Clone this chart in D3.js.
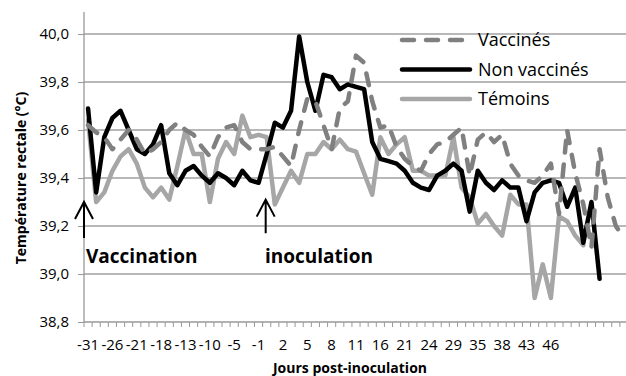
<!DOCTYPE html>
<html>
<head>
<meta charset="utf-8">
<script src="https://cdnjs.cloudflare.com/ajax/libs/d3/7.8.5/d3.min.js"></script>
<style>
  body { margin: 0; background: #fff; }
  text { font-family: "Open Sans", sans-serif; fill: #000; }
</style>
</head>
<body>
<script>
// days (one category per measurement), only every 3rd is labelled
var days = [-31, -29, -28, -26, -25, -22, -21, -20, -19, -18,
            -15, -14, -13, -12, -11, -10, -8, -7, -5, -4,
            -3, -1, 0, 1, 2, 3, 4, 5, 6, 7,
            8, 9, 10, 11, 14, 15, 16, 17, 18, 21,
            22, 23, 24, 25, 28, 29, 31, 32, 35, 36,
            37, 38, 39, 42, 43, 44, 45, 46, 49, 50,
            51, 52, 53, 56, 57, 58, 59];

var vaccines = [39.62, 39.59, 39.57, 39.52, 39.56, 39.60, 39.56, 39.50, 39.52, 39.55,
                39.60, 39.63, 39.60, 39.58, 39.53, 39.49, 39.57, 39.61, 39.62, 39.55,
                39.52, 39.52, 39.52, 39.53, 39.49, 39.45, 39.60, 39.73, 39.72, 39.62,
                39.52, 39.69, 39.72, 39.91, 39.88, 39.72, 39.61, 39.62, 39.53, 39.48,
                39.45, 39.43, 39.50, 39.54, 39.55, 39.58, 39.61, 39.41, 39.56, 39.59,
                39.55, 39.58, 39.46, 39.41, 39.39, 39.38, 39.41, 39.46, 39.25, 39.60,
                39.42, 39.29, 39.11, 39.52, 39.32, 39.20, 39.15];

var nonVaccines = [39.69, 39.34, 39.57, 39.65, 39.68, 39.60, 39.52, 39.50, 39.54, 39.62,
                   39.42, 39.37, 39.43, 39.45, 39.41, 39.38, 39.42, 39.40, 39.37, 39.43,
                   39.39, 39.38, 39.50, 39.63, 39.61, 39.68, 39.99, 39.80, 39.68, 39.83,
                   39.82, 39.77, 39.79, 39.78, 39.77, 39.55, 39.48, 39.47, 39.46, 39.43,
                   39.38, 39.36, 39.35, 39.41, 39.43, 39.46, 39.43, 39.26, 39.43, 39.38,
                   39.35, 39.39, 39.36, 39.36, 39.22, 39.34, 39.38, 39.39, 39.38, 39.28,
                   39.36, 39.13, 39.30, 38.98];

var temoins = [39.64, 39.30, 39.34, 39.43, 39.49, 39.52, 39.46, 39.36, 39.32, 39.36,
               39.31, 39.45, 39.60, 39.50, 39.50, 39.30, 39.48, 39.55, 39.50, 39.66,
               39.57, 39.58, 39.57, 39.29, 39.36, 39.43, 39.38, 39.50, 39.50, 39.55,
               39.52, 39.56, 39.52, 39.51, 39.42, 39.33, 39.57, 39.50, 39.54, 39.57,
               39.43, 39.43, 39.41, 39.41, 39.41, 39.57, 39.36, 39.32, 39.21, 39.25,
               39.20, 39.16, 39.33, 39.29, 39.29, 38.90, 39.04, 38.90, 39.24, 39.22,
               39.16, 39.12];

var yTicks = [38.8, 39.0, 39.2, 39.4, 39.6, 39.8, 40.0];
var seriesNames = ["Vaccinés", "Non vaccinés", "Témoins"];
var vaccinationDay = -31;
var inoculationDay = 0;

var width = 626;
var height = 376;
var plotLeft = 84, plotRight = 628, plotTop = 34, plotBottom = 322;

var svg = d3.select("body")
  .append("svg")
  .attr("width", width)
  .attr("height", height);

var x = d3.scaleBand()
  .domain(days)
  .range([plotLeft, plotRight]);

var y = d3.scaleLinear()
  .domain([38.8, 40.0])
  .range([plotBottom, plotTop]);

function cx(i) { return x(days[i]) + x.bandwidth() / 2; }
var fmt = function(d) { return d3.format(".1f")(d).replace(".", ","); };

// horizontal gridlines
svg.selectAll("line.grid")
  .data(yTicks.slice(1))
  .enter()
  .append("line")
  .attr("class", "grid")
  .attr("x1", plotLeft)
  .attr("x2", width)
  .attr("y1", function(d) { return y(d); })
  .attr("y2", function(d) { return y(d); })
  .attr("stroke", "#a0a0a0")
  .attr("stroke-width", 1.3);

// y axis
var yAxis = svg.append("g")
  .attr("transform", "translate(" + plotLeft + ",0)")
  .call(d3.axisLeft(y).tickValues(yTicks).tickFormat(fmt).tickSize(6).tickPadding(9));
yAxis.selectAll("text").style("font-size", "15px").attr("fill", "#000");
yAxis.select(".domain").attr("d", "M0," + (plotTop - 22) + "V" + plotBottom);

// x axis
var xAxis = svg.append("g")
  .attr("transform", "translate(0," + plotBottom + ")")
  .call(d3.axisBottom(x)
    .tickValues(days.filter(function(d, i) { return i % 3 === 0 && i < 58; }))
    .tickSize(0)
    .tickPadding(17));
xAxis.selectAll("text").style("font-size", "15px").attr("fill", "#000");
xAxis.select(".domain").attr("d", "M" + plotLeft + ",0H" + width);

// tick marks between categories
xAxis.selectAll("line.cat")
  .data(days)
  .enter()
  .append("line")
  .attr("class", "cat")
  .attr("x1", function(d) { return x(d); })
  .attr("x2", function(d) { return x(d); })
  .attr("y1", 0)
  .attr("y2", 5)
  .attr("stroke", "#999");

svg.selectAll(".domain").attr("stroke", "#999").attr("stroke-width", 1.3);
yAxis.selectAll(".tick line").attr("stroke", "#999");

// series lines
var line = d3.line()
  .x(function(d, i) { return cx(i); })
  .y(function(d) { return y(d); });

var series = [
  { name: seriesNames[0], values: vaccines, color: "#808080", dash: "12 12" },
  { name: seriesNames[1], values: nonVaccines, color: "#000000", dash: null },
  { name: seriesNames[2], values: temoins, color: "#a6a6a6", dash: null }
];

svg.selectAll("path.series")
  .data(series.slice().reverse())
  .enter()
  .append("path")
  .attr("class", "series")
  .attr("d", function(d) { return line(d.values); })
  .attr("fill", "none")
  .attr("stroke", function(d) { return d.color; })
  .attr("stroke-width", 4.5)
  .attr("stroke-linejoin", "round")
  .attr("stroke-linecap", "round")
  .attr("stroke-dasharray", function(d) { return d.dash; });

// legend
var legend = svg.selectAll("g.legend")
  .data(series)
  .enter()
  .append("g")
  .attr("class", "legend")
  .attr("transform", function(d, i) { return "translate(402," + (40 + i * 29.5) + ")"; });

legend.append("line")
  .attr("x1", 0)
  .attr("x2", 68)
  .attr("stroke", function(d) { return d.color; })
  .attr("stroke-width", 4.5)
  .attr("stroke-linecap", "round")
  .attr("stroke-dasharray", function(d) { return d.dash; });

legend.append("text")
  .attr("x", 76)
  .attr("dy", "0.35em")
  .style("font-size", "18px")
  .text(function(d) { return d.name; });

// arrows
var arrows = [
  { label: "Vaccination", x: x(vaccinationDay), tip: 39.3, end: 39.15, tx: 86 },
  { label: "inoculation", x: cx(days.indexOf(inoculationDay)) - 1, tip: 39.31, end: 39.17, tx: 265 }
];

var arrow = svg.selectAll("g.arrow")
  .data(arrows)
  .enter()
  .append("g")
  .attr("class", "arrow");

arrow.append("path")
  .attr("d", function(d) {
    var t = y(d.tip);
    return "M" + d.x + "," + y(d.end) + "V" + t +
           "M" + (d.x - 9) + "," + (t + 17) + "L" + d.x + "," + t + "L" + (d.x + 9) + "," + (t + 17);
  })
  .attr("fill", "none")
  .attr("stroke", "#000")
  .attr("stroke-width", 2);

arrow.append("text")
  .attr("x", function(d) { return d.tx; })
  .attr("y", 263)
  .style("font-size", "19px")
  .style("font-weight", "bold")
  .text(function(d) { return d.label; });

// axis titles
svg.append("text")
  .attr("x", 350)
  .attr("y", 373)
  .attr("text-anchor", "middle")
  .style("font-size", "14px")
  .style("font-weight", "bold")
  .text("Jours post-inoculation");

svg.append("text")
  .attr("transform", "translate(26,178) rotate(-90)")
  .attr("text-anchor", "middle")
  .style("font-size", "14px")
  .style("font-weight", "bold")
  .text("Température rectale (°C)");
</script>
</body>
</html>
